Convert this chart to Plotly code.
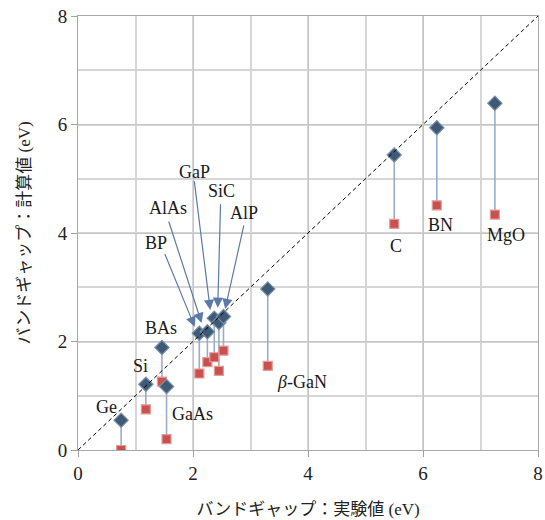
import plotly.graph_objects as go

# ---- data ----
compounds = ["Ge", "Si", "GaAs", "BAs", "BP", "AlAs", "GaP", "SiC", "AlP", "β-GaN", "C", "BN", "MgO"]
exp_gap = [0.75, 1.18, 1.54, 1.46, 2.11, 2.25, 2.37, 2.45, 2.53, 3.30, 5.50, 6.24, 7.25]
calc_upper = [0.55, 1.21, 1.17, 1.89, 2.15, 2.18, 2.43, 2.35, 2.46, 2.97, 5.44, 5.94, 6.39]
calc_lower = [0.00, 0.75, 0.20, 1.26, 1.41, 1.62, 1.71, 1.46, 1.83, 1.55, 4.17, 4.51, 4.34]
x_ticks = [0, 2, 4, 6, 8]
y_ticks = [0, 2, 4, 6, 8]

# ---- layout helpers (label placement, in data units) ----
label_pos = {
    "Ge": (0.49, 0.80), "Si": (1.09, 1.54), "GaAs": (1.99, 0.66), "BAs": (1.44, 2.25),
    "BP": (1.36, 3.82), "AlAs": (1.56, 4.46), "GaP": (2.03, 5.12), "SiC": (2.50, 4.77),
    "AlP": (2.89, 4.37), "β-GaN": (3.90, 1.25), "C": (5.53, 3.76), "BN": (6.30, 4.15),
    "MgO": (7.44, 3.96),
}
arrow_spec = {  # tail (x, y) -> head (x, y)
    "BP": ((1.50, 3.64), (2.03, 2.27)),
    "AlAs": ((1.57, 4.24), (2.15, 2.34)),
    "GaP": ((2.02, 4.98), (2.30, 2.58)),
    "SiC": ((2.48, 4.56), (2.43, 2.62)),
    "AlP": ((2.89, 4.17), (2.56, 2.60)),
}

FONT = "Liberation Serif, Noto Sans CJK JP, serif"

fig = go.Figure()

# connectors
cx, cy = [], []
for xe, yu, yl in zip(exp_gap, calc_upper, calc_lower):
    cx += [xe, xe, None]
    cy += [yu, yl, None]
fig.add_trace(go.Scatter(x=cx, y=cy, mode="lines",
                         line=dict(color="#98aec8", width=1.6), hoverinfo="skip", showlegend=False))

fig.add_trace(go.Scatter(x=exp_gap, y=calc_lower, mode="markers", text=compounds,
                         marker=dict(symbol="square", size=9, color="#c8504e",
                                     line=dict(color="#e49a98", width=1.2)),
                         showlegend=False))
fig.add_trace(go.Scatter(x=exp_gap, y=calc_upper, mode="markers", text=compounds,
                         marker=dict(symbol="diamond", size=11, color="#3e5a74",
                                     line=dict(color="#7890ab", width=1.2)),
                         showlegend=False))

# y = x reference
fig.add_shape(type="line", xref="x", yref="y", x0=x_ticks[0], y0=y_ticks[0], x1=x_ticks[-1], y1=y_ticks[-1],
              line=dict(color="black", width=1, dash="4px,3px"), layer="above")

annotations = []
for name in compounds:
    lx, ly = label_pos[name]
    txt = "<i>β</i>-GaN" if name == "β-GaN" else name
    annotations.append(dict(x=lx, y=ly, xref="x", yref="y", text=txt, showarrow=False,
                            font=dict(family=FONT, size=18, color="#1a1a1a")))
for name, ((tx, ty), (hx, hy)) in arrow_spec.items():
    annotations.append(dict(x=hx, y=hy, ax=tx, ay=ty, xref="x", yref="y", axref="x", ayref="y",
                            text="", showarrow=True, arrowhead=2, arrowsize=1.7, arrowwidth=1.2,
                            arrowcolor="#5d7aa6"))

axis_common = dict(range=[0, 8], ticks="outside", ticklen=6, tickcolor="#a0a0a0",
                   showgrid=True, gridcolor="#c4c4c4", gridwidth=1,
                   minor=dict(dtick=1, showgrid=True, gridcolor="#d6d6d6", gridwidth=1.5),
                   showline=True, linecolor="#a8a8a8", mirror=True, zeroline=False,
                   automargin=False, tickfont=dict(size=19), ticklabeloverflow="allow")

fig.update_layout(
    width=545, height=520,
    margin=dict(l=78, r=7, t=16, b=70),
    paper_bgcolor="white", plot_bgcolor="white",
    font=dict(family=FONT, size=17, color="#222222"),
    annotations=annotations,
    xaxis=dict(axis_common, tickvals=x_ticks,
               title=dict(text="バンドギャップ：実験値 (eV)", font=dict(size=17), standoff=20)),
    yaxis=dict(axis_common, tickvals=y_ticks,
               title=dict(text="バンドギャップ：計算値 (eV)", font=dict(size=17), standoff=22)),
)

# remove the browser's default 8px body margin so the figure fills the window
fig.write_html("out.html", config={"displayModeBar": False},
               post_script="document.body.style.margin='0';document.body.style.overflow='hidden';")
